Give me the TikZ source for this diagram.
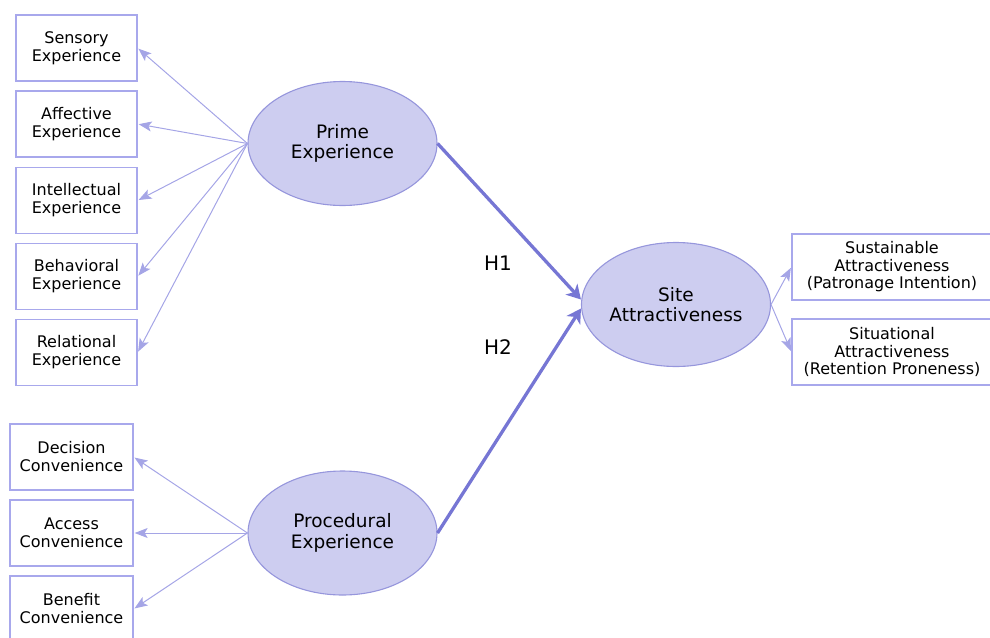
\documentclass[tikz,border=0pt]{standalone}
\usepackage{fontspec}
\setmainfont{DejaVu Sans}
\usetikzlibrary{shapes.geometric, arrows.meta}
\definecolor{lavfill}{RGB}{205,205,240}
\definecolor{lavline}{RGB}{150,150,220}
\definecolor{boxline}{RGB}{168,168,236}
\definecolor{thinarr}{RGB}{165,165,230}
\definecolor{thickarr}{RGB}{118,118,212}

\begin{document}
\begin{tikzpicture}[x=1pt, y=-1pt, >=stealth,
    indbox/.style={draw=boxline, line width=1.3pt, fill=white, rectangle, minimum width=121pt, minimum height=66pt, align=center, inner sep=0pt, font=\fontsize{16}{18}\selectfont, text=black},
    latent/.style={draw=lavline, line width=1.1pt, fill=lavfill, ellipse, minimum width=189pt, minimum height=124pt, align=center, inner sep=0pt, font=\fontsize{18.5}{20.5}\selectfont, text=black},
    hyp/.style={font=\fontsize{20}{22}\selectfont, text=black},
    loading/.style={-{Stealth[length=13pt, width=10pt, inset=3pt]}, thinarr, line width=1pt, shorten >=1pt},
    path/.style={-{Stealth[length=14pt, width=16pt, inset=4pt]}, thickarr, line width=3.3pt}]
            \useasboundingbox (0,0) rectangle (990,637);
            % latent constructs
            \node[latent] (prime) at (342.5,143.5) {Prime\\Experience};
            \node[latent] (proc) at (342.5,533) {Procedural\\Experience};
            \node[latent] (site) at (676,304.5) {Site\\Attractiveness};
            % indicators
            \node[indbox] (sens) at (76.5,48) {Sensory\\Experience};
            \node[indbox] (aff) at (76.5,124) {Affective\\Experience};
            \node[indbox] (intel) at (76.5,200.5) {Intellectual\\Experience};
            \node[indbox] (behav) at (76.5,276.5) {Behavioral\\Experience};
            \node[indbox] (relat) at (76.5,352.5) {Relational\\Experience};
            \node[indbox, minimum width=123pt] (decis) at (71.5,457) {Decision\\Convenience};
            \node[indbox, minimum width=123pt] (access) at (71.5,533) {Access\\Convenience};
            \node[indbox, minimum width=123pt] (benef) at (71.5,609) {Benefit\\Convenience};
            \node[indbox, minimum width=200pt, font=\fontsize{16}{17.5}\selectfont] (sustain) at (892,267) {Sustainable\\Attractiveness\\(Patronage Intention)};
            \node[indbox, minimum width=200pt, font=\fontsize{16}{17.5}\selectfont] (situ) at (892,352) {Situational\\Attractiveness\\(Retention Proneness)};
            % loadings
            \foreach \ind in {sens, aff, intel, behav, relat}
                \draw[loading] (prime.west) -- (\ind.east);
            \foreach \ind in {decis, access, benef}
                \draw[loading] (proc.west) -- (\ind.east);
            \draw[loading] (site.east) -- (sustain.west);
            \draw[loading] (site.east) -- (situ.west);
            % hypotheses
            \draw[path] (prime.east) -- ([yshift=5pt]site.west);
            \draw[path] (proc.east) -- ([yshift=-4pt]site.west);
            \node[hyp] (h1) at (498,263) {H1};
            \node[hyp] (h2) at (498,347) {H2};
        \end{tikzpicture}
\end{document}
